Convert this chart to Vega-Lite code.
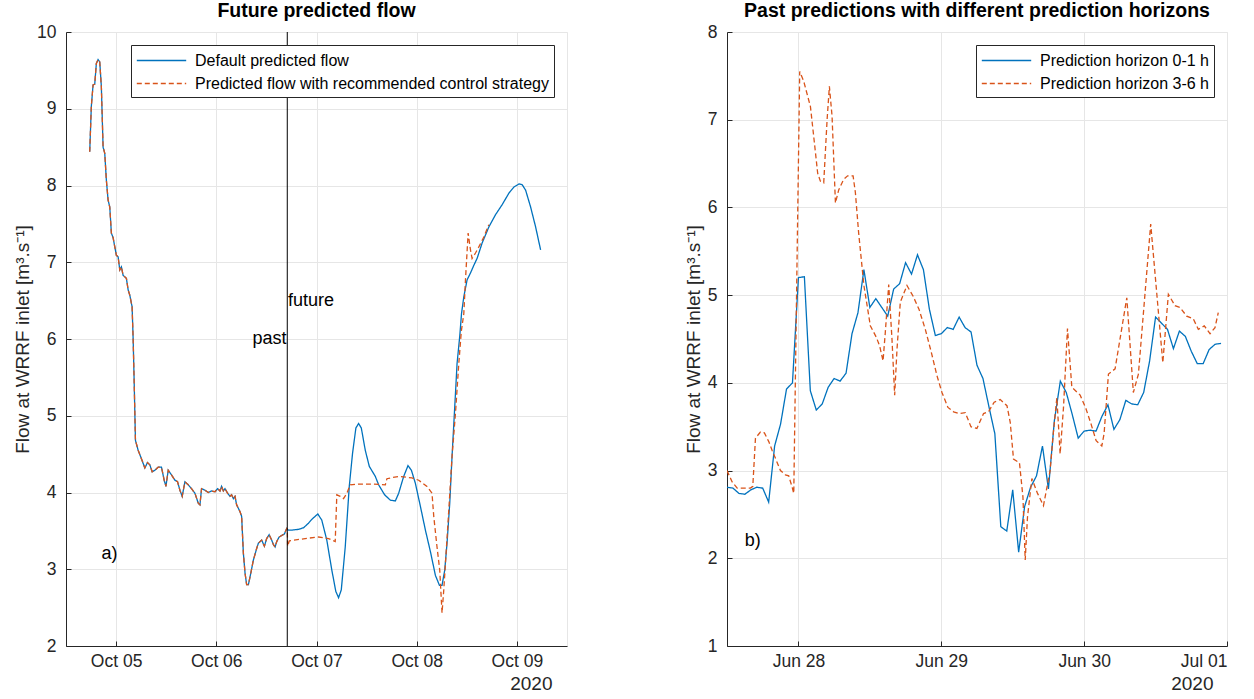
{
  "$schema": "https://vega.github.io/schema/vega-lite/v6.json",
  "padding": {"left": 13, "top": 0, "right": 5, "bottom": 0},
  "spacing": 115,
  "background": "#ffffff",
  "config": {
    "font": "Liberation Sans",
    "view": {"stroke": "#e6e6e6"},
    "axis": {
      "domainColor": "#262626", "tickColor": "#262626", "labelColor": "#262626", "titleColor": "#262626",
      "gridColor": "#e6e6e6", "labelFontSize": 17.5, "titleFontSize": 19, "titleFontWeight": "normal",
      "tickSize": -5, "labelPadding": 15
    },
    "title": {"fontSize": 19.5, "fontWeight": "bold", "color": "#000000", "offset": 2},
    "legend": {
      "orient": "top-right", "offset": 13, "fillColor": "#ffffff", "strokeColor": "#262626",
      "padding": 5, "labelFontSize": 16, "labelColor": "#000000", "labelLimit": 0,
      "symbolType": "M-2.6,0H2.6", "symbolSize": 361, "symbolStrokeWidth": 1.3,
      "symbolOffset": 15, "labelOffset": 23, "rowPadding": 4, "cornerRadius": 0
    }
  },
  "resolve": {
    "scale": {"color": "independent", "strokeDash": "independent", "x": "independent", "y": "independent"},
    "legend": {"color": "independent", "strokeDash": "independent"}
  },
  "datasets": {
    "flowA": [
      {"t":"2020-10-04T17:41","v":8.44,"s":"Default predicted flow"},
      {"t":"2020-10-04T18:04","v":9.03,"s":"Default predicted flow"},
      {"t":"2020-10-04T18:29","v":9.31,"s":"Default predicted flow"},
      {"t":"2020-10-04T18:53","v":9.32,"s":"Default predicted flow"},
      {"t":"2020-10-04T19:16","v":9.59,"s":"Default predicted flow"},
      {"t":"2020-10-04T19:41","v":9.64,"s":"Default predicted flow"},
      {"t":"2020-10-04T20:05","v":9.61,"s":"Default predicted flow"},
      {"t":"2020-10-04T20:28","v":9.29,"s":"Default predicted flow"},
      {"t":"2020-10-04T20:53","v":8.50,"s":"Default predicted flow"},
      {"t":"2020-10-04T21:17","v":8.42,"s":"Default predicted flow"},
      {"t":"2020-10-04T21:40","v":8.07,"s":"Default predicted flow"},
      {"t":"2020-10-04T22:05","v":7.81,"s":"Default predicted flow"},
      {"t":"2020-10-04T22:29","v":7.72,"s":"Default predicted flow"},
      {"t":"2020-10-04T22:52","v":7.38,"s":"Default predicted flow"},
      {"t":"2020-10-04T23:17","v":7.32,"s":"Default predicted flow"},
      {"t":"2020-10-05T00:04","v":7.09,"s":"Default predicted flow"},
      {"t":"2020-10-05T00:29","v":7.07,"s":"Default predicted flow"},
      {"t":"2020-10-05T00:53","v":6.90,"s":"Default predicted flow"},
      {"t":"2020-10-05T01:16","v":6.94,"s":"Default predicted flow"},
      {"t":"2020-10-05T01:41","v":6.83,"s":"Default predicted flow"},
      {"t":"2020-10-05T02:28","v":6.79,"s":"Default predicted flow"},
      {"t":"2020-10-05T02:53","v":6.64,"s":"Default predicted flow"},
      {"t":"2020-10-05T03:17","v":6.57,"s":"Default predicted flow"},
      {"t":"2020-10-05T03:50","v":6.42,"s":"Default predicted flow"},
      {"t":"2020-10-05T04:05","v":6.00,"s":"Default predicted flow"},
      {"t":"2020-10-05T04:19","v":5.47,"s":"Default predicted flow"},
      {"t":"2020-10-05T04:38","v":4.68,"s":"Default predicted flow"},
      {"t":"2020-10-05T05:17","v":4.55,"s":"Default predicted flow"},
      {"t":"2020-10-05T06:04","v":4.44,"s":"Default predicted flow"},
      {"t":"2020-10-05T06:53","v":4.32,"s":"Default predicted flow"},
      {"t":"2020-10-05T07:31","v":4.39,"s":"Default predicted flow"},
      {"t":"2020-10-05T08:05","v":4.36,"s":"Default predicted flow"},
      {"t":"2020-10-05T08:38","v":4.27,"s":"Default predicted flow"},
      {"t":"2020-10-05T09:17","v":4.29,"s":"Default predicted flow"},
      {"t":"2020-10-05T10:05","v":4.33,"s":"Default predicted flow"},
      {"t":"2020-10-05T10:52","v":4.33,"s":"Default predicted flow"},
      {"t":"2020-10-05T11:31","v":4.16,"s":"Default predicted flow"},
      {"t":"2020-10-05T11:56","v":4.08,"s":"Default predicted flow"},
      {"t":"2020-10-05T12:29","v":4.29,"s":"Default predicted flow"},
      {"t":"2020-10-05T13:16","v":4.23,"s":"Default predicted flow"},
      {"t":"2020-10-05T14:05","v":4.16,"s":"Default predicted flow"},
      {"t":"2020-10-05T14:43","v":4.14,"s":"Default predicted flow"},
      {"t":"2020-10-05T15:17","v":4.03,"s":"Default predicted flow"},
      {"t":"2020-10-05T15:50","v":3.95,"s":"Default predicted flow"},
      {"t":"2020-10-05T16:29","v":4.14,"s":"Default predicted flow"},
      {"t":"2020-10-05T17:17","v":4.10,"s":"Default predicted flow"},
      {"t":"2020-10-05T18:04","v":4.05,"s":"Default predicted flow"},
      {"t":"2020-10-05T18:53","v":3.99,"s":"Default predicted flow"},
      {"t":"2020-10-05T19:41","v":3.86,"s":"Default predicted flow"},
      {"t":"2020-10-05T20:05","v":3.84,"s":"Default predicted flow"},
      {"t":"2020-10-05T20:28","v":4.05,"s":"Default predicted flow"},
      {"t":"2020-10-05T21:17","v":4.03,"s":"Default predicted flow"},
      {"t":"2020-10-05T22:05","v":4.00,"s":"Default predicted flow"},
      {"t":"2020-10-05T22:52","v":4.02,"s":"Default predicted flow"},
      {"t":"2020-10-05T23:41","v":4.01,"s":"Default predicted flow"},
      {"t":"2020-10-06T00:19","v":4.05,"s":"Default predicted flow"},
      {"t":"2020-10-06T00:53","v":4.02,"s":"Default predicted flow"},
      {"t":"2020-10-06T01:16","v":4.08,"s":"Default predicted flow"},
      {"t":"2020-10-06T01:41","v":4.02,"s":"Default predicted flow"},
      {"t":"2020-10-06T02:05","v":4.05,"s":"Default predicted flow"},
      {"t":"2020-10-06T02:43","v":3.99,"s":"Default predicted flow"},
      {"t":"2020-10-06T03:17","v":3.95,"s":"Default predicted flow"},
      {"t":"2020-10-06T03:40","v":3.97,"s":"Default predicted flow"},
      {"t":"2020-10-06T04:05","v":3.92,"s":"Default predicted flow"},
      {"t":"2020-10-06T04:29","v":3.95,"s":"Default predicted flow"},
      {"t":"2020-10-06T04:52","v":3.84,"s":"Default predicted flow"},
      {"t":"2020-10-06T05:41","v":3.75,"s":"Default predicted flow"},
      {"t":"2020-10-06T06:04","v":3.69,"s":"Default predicted flow"},
      {"t":"2020-10-06T06:29","v":3.21,"s":"Default predicted flow"},
      {"t":"2020-10-06T06:53","v":2.95,"s":"Default predicted flow"},
      {"t":"2020-10-06T07:16","v":2.80,"s":"Default predicted flow"},
      {"t":"2020-10-06T07:41","v":2.80,"s":"Default predicted flow"},
      {"t":"2020-10-06T08:05","v":2.90,"s":"Default predicted flow"},
      {"t":"2020-10-06T08:53","v":3.12,"s":"Default predicted flow"},
      {"t":"2020-10-06T09:40","v":3.27,"s":"Default predicted flow"},
      {"t":"2020-10-06T10:05","v":3.34,"s":"Default predicted flow"},
      {"t":"2020-10-06T10:52","v":3.38,"s":"Default predicted flow"},
      {"t":"2020-10-06T11:31","v":3.30,"s":"Default predicted flow"},
      {"t":"2020-10-06T12:04","v":3.40,"s":"Default predicted flow"},
      {"t":"2020-10-06T12:39","v":3.45,"s":"Default predicted flow"},
      {"t":"2020-10-06T13:16","v":3.38,"s":"Default predicted flow"},
      {"t":"2020-10-06T13:41","v":3.32,"s":"Default predicted flow"},
      {"t":"2020-10-06T14:05","v":3.29,"s":"Default predicted flow"},
      {"t":"2020-10-06T14:28","v":3.36,"s":"Default predicted flow"},
      {"t":"2020-10-06T15:03","v":3.42,"s":"Default predicted flow"},
      {"t":"2020-10-06T15:40","v":3.44,"s":"Default predicted flow"},
      {"t":"2020-10-06T16:19","v":3.46,"s":"Default predicted flow"},
      {"t":"2020-10-06T16:52","v":3.53,"s":"Default predicted flow"},
      {"t":"2020-10-06T17:00","v":3.52,"s":"Default predicted flow"},
      {"t":"2020-10-06T17:17","v":3.51,"s":"Default predicted flow"},
      {"t":"2020-10-06T18:04","v":3.51,"s":"Default predicted flow"},
      {"t":"2020-10-06T19:41","v":3.52,"s":"Default predicted flow"},
      {"t":"2020-10-06T20:53","v":3.54,"s":"Default predicted flow"},
      {"t":"2020-10-06T22:05","v":3.60,"s":"Default predicted flow"},
      {"t":"2020-10-06T22:52","v":3.65,"s":"Default predicted flow"},
      {"t":"2020-10-07T00:19","v":3.72,"s":"Default predicted flow"},
      {"t":"2020-10-07T01:16","v":3.64,"s":"Default predicted flow"},
      {"t":"2020-10-07T02:28","v":3.38,"s":"Default predicted flow"},
      {"t":"2020-10-07T03:40","v":2.99,"s":"Default predicted flow"},
      {"t":"2020-10-07T04:38","v":2.71,"s":"Default predicted flow"},
      {"t":"2020-10-07T05:17","v":2.63,"s":"Default predicted flow"},
      {"t":"2020-10-07T05:56","v":2.73,"s":"Default predicted flow"},
      {"t":"2020-10-07T06:53","v":3.29,"s":"Default predicted flow"},
      {"t":"2020-10-07T07:51","v":4.08,"s":"Default predicted flow"},
      {"t":"2020-10-07T08:38","v":4.51,"s":"Default predicted flow"},
      {"t":"2020-10-07T09:26","v":4.84,"s":"Default predicted flow"},
      {"t":"2020-10-07T10:05","v":4.90,"s":"Default predicted flow"},
      {"t":"2020-10-07T10:44","v":4.84,"s":"Default predicted flow"},
      {"t":"2020-10-07T11:41","v":4.55,"s":"Default predicted flow"},
      {"t":"2020-10-07T12:39","v":4.34,"s":"Default predicted flow"},
      {"t":"2020-10-07T14:05","v":4.21,"s":"Default predicted flow"},
      {"t":"2020-10-07T14:53","v":4.10,"s":"Default predicted flow"},
      {"t":"2020-10-07T16:19","v":3.97,"s":"Default predicted flow"},
      {"t":"2020-10-07T17:41","v":3.90,"s":"Default predicted flow"},
      {"t":"2020-10-07T18:53","v":3.89,"s":"Default predicted flow"},
      {"t":"2020-10-07T19:41","v":3.99,"s":"Default predicted flow"},
      {"t":"2020-10-07T20:53","v":4.21,"s":"Default predicted flow"},
      {"t":"2020-10-07T21:55","v":4.35,"s":"Default predicted flow"},
      {"t":"2020-10-07T22:44","v":4.29,"s":"Default predicted flow"},
      {"t":"2020-10-07T23:41","v":4.12,"s":"Default predicted flow"},
      {"t":"2020-10-08T00:53","v":3.82,"s":"Default predicted flow"},
      {"t":"2020-10-08T02:05","v":3.51,"s":"Default predicted flow"},
      {"t":"2020-10-08T03:17","v":3.23,"s":"Default predicted flow"},
      {"t":"2020-10-08T04:29","v":2.92,"s":"Default predicted flow"},
      {"t":"2020-10-08T05:27","v":2.79,"s":"Default predicted flow"},
      {"t":"2020-10-08T06:04","v":2.79,"s":"Default predicted flow"},
      {"t":"2020-10-08T06:43","v":2.99,"s":"Default predicted flow"},
      {"t":"2020-10-08T07:16","v":3.34,"s":"Default predicted flow"},
      {"t":"2020-10-08T07:55","v":3.86,"s":"Default predicted flow"},
      {"t":"2020-10-08T08:28","v":4.47,"s":"Default predicted flow"},
      {"t":"2020-10-08T09:07","v":5.12,"s":"Default predicted flow"},
      {"t":"2020-10-08T09:40","v":5.68,"s":"Default predicted flow"},
      {"t":"2020-10-08T10:20","v":6.05,"s":"Default predicted flow"},
      {"t":"2020-10-08T10:44","v":6.33,"s":"Default predicted flow"},
      {"t":"2020-10-08T11:17","v":6.55,"s":"Default predicted flow"},
      {"t":"2020-10-08T12:04","v":6.77,"s":"Default predicted flow"},
      {"t":"2020-10-08T12:53","v":6.86,"s":"Default predicted flow"},
      {"t":"2020-10-08T13:41","v":6.96,"s":"Default predicted flow"},
      {"t":"2020-10-08T14:28","v":7.05,"s":"Default predicted flow"},
      {"t":"2020-10-08T15:40","v":7.25,"s":"Default predicted flow"},
      {"t":"2020-10-08T17:17","v":7.46,"s":"Default predicted flow"},
      {"t":"2020-10-08T18:53","v":7.62,"s":"Default predicted flow"},
      {"t":"2020-10-08T20:28","v":7.75,"s":"Default predicted flow"},
      {"t":"2020-10-08T22:05","v":7.90,"s":"Default predicted flow"},
      {"t":"2020-10-08T23:17","v":7.98,"s":"Default predicted flow"},
      {"t":"2020-10-09T00:29","v":8.02,"s":"Default predicted flow"},
      {"t":"2020-10-09T01:16","v":8.01,"s":"Default predicted flow"},
      {"t":"2020-10-09T02:05","v":7.94,"s":"Default predicted flow"},
      {"t":"2020-10-09T03:17","v":7.72,"s":"Default predicted flow"},
      {"t":"2020-10-09T04:29","v":7.46,"s":"Default predicted flow"},
      {"t":"2020-10-09T05:41","v":7.16,"s":"Default predicted flow"},
      {"t":"2020-10-04T17:41","v":8.44,"s":"Predicted flow with recommended control strategy"},
      {"t":"2020-10-04T18:04","v":9.03,"s":"Predicted flow with recommended control strategy"},
      {"t":"2020-10-04T18:29","v":9.31,"s":"Predicted flow with recommended control strategy"},
      {"t":"2020-10-04T18:53","v":9.32,"s":"Predicted flow with recommended control strategy"},
      {"t":"2020-10-04T19:16","v":9.59,"s":"Predicted flow with recommended control strategy"},
      {"t":"2020-10-04T19:41","v":9.64,"s":"Predicted flow with recommended control strategy"},
      {"t":"2020-10-04T20:05","v":9.61,"s":"Predicted flow with recommended control strategy"},
      {"t":"2020-10-04T20:28","v":9.29,"s":"Predicted flow with recommended control strategy"},
      {"t":"2020-10-04T20:53","v":8.50,"s":"Predicted flow with recommended control strategy"},
      {"t":"2020-10-04T21:17","v":8.42,"s":"Predicted flow with recommended control strategy"},
      {"t":"2020-10-04T21:40","v":8.07,"s":"Predicted flow with recommended control strategy"},
      {"t":"2020-10-04T22:05","v":7.81,"s":"Predicted flow with recommended control strategy"},
      {"t":"2020-10-04T22:29","v":7.72,"s":"Predicted flow with recommended control strategy"},
      {"t":"2020-10-04T22:52","v":7.38,"s":"Predicted flow with recommended control strategy"},
      {"t":"2020-10-04T23:17","v":7.32,"s":"Predicted flow with recommended control strategy"},
      {"t":"2020-10-05T00:04","v":7.09,"s":"Predicted flow with recommended control strategy"},
      {"t":"2020-10-05T00:29","v":7.07,"s":"Predicted flow with recommended control strategy"},
      {"t":"2020-10-05T00:53","v":6.90,"s":"Predicted flow with recommended control strategy"},
      {"t":"2020-10-05T01:16","v":6.94,"s":"Predicted flow with recommended control strategy"},
      {"t":"2020-10-05T01:41","v":6.83,"s":"Predicted flow with recommended control strategy"},
      {"t":"2020-10-05T02:28","v":6.79,"s":"Predicted flow with recommended control strategy"},
      {"t":"2020-10-05T02:53","v":6.64,"s":"Predicted flow with recommended control strategy"},
      {"t":"2020-10-05T03:17","v":6.57,"s":"Predicted flow with recommended control strategy"},
      {"t":"2020-10-05T03:50","v":6.42,"s":"Predicted flow with recommended control strategy"},
      {"t":"2020-10-05T04:05","v":6.00,"s":"Predicted flow with recommended control strategy"},
      {"t":"2020-10-05T04:19","v":5.47,"s":"Predicted flow with recommended control strategy"},
      {"t":"2020-10-05T04:38","v":4.68,"s":"Predicted flow with recommended control strategy"},
      {"t":"2020-10-05T05:17","v":4.55,"s":"Predicted flow with recommended control strategy"},
      {"t":"2020-10-05T06:04","v":4.44,"s":"Predicted flow with recommended control strategy"},
      {"t":"2020-10-05T06:53","v":4.32,"s":"Predicted flow with recommended control strategy"},
      {"t":"2020-10-05T07:31","v":4.39,"s":"Predicted flow with recommended control strategy"},
      {"t":"2020-10-05T08:05","v":4.36,"s":"Predicted flow with recommended control strategy"},
      {"t":"2020-10-05T08:38","v":4.27,"s":"Predicted flow with recommended control strategy"},
      {"t":"2020-10-05T09:17","v":4.29,"s":"Predicted flow with recommended control strategy"},
      {"t":"2020-10-05T10:05","v":4.33,"s":"Predicted flow with recommended control strategy"},
      {"t":"2020-10-05T10:52","v":4.33,"s":"Predicted flow with recommended control strategy"},
      {"t":"2020-10-05T11:31","v":4.16,"s":"Predicted flow with recommended control strategy"},
      {"t":"2020-10-05T11:56","v":4.08,"s":"Predicted flow with recommended control strategy"},
      {"t":"2020-10-05T12:29","v":4.29,"s":"Predicted flow with recommended control strategy"},
      {"t":"2020-10-05T13:16","v":4.23,"s":"Predicted flow with recommended control strategy"},
      {"t":"2020-10-05T14:05","v":4.16,"s":"Predicted flow with recommended control strategy"},
      {"t":"2020-10-05T14:43","v":4.14,"s":"Predicted flow with recommended control strategy"},
      {"t":"2020-10-05T15:17","v":4.03,"s":"Predicted flow with recommended control strategy"},
      {"t":"2020-10-05T15:50","v":3.95,"s":"Predicted flow with recommended control strategy"},
      {"t":"2020-10-05T16:29","v":4.14,"s":"Predicted flow with recommended control strategy"},
      {"t":"2020-10-05T17:17","v":4.10,"s":"Predicted flow with recommended control strategy"},
      {"t":"2020-10-05T18:04","v":4.05,"s":"Predicted flow with recommended control strategy"},
      {"t":"2020-10-05T18:53","v":3.99,"s":"Predicted flow with recommended control strategy"},
      {"t":"2020-10-05T19:41","v":3.86,"s":"Predicted flow with recommended control strategy"},
      {"t":"2020-10-05T20:05","v":3.84,"s":"Predicted flow with recommended control strategy"},
      {"t":"2020-10-05T20:28","v":4.05,"s":"Predicted flow with recommended control strategy"},
      {"t":"2020-10-05T21:17","v":4.03,"s":"Predicted flow with recommended control strategy"},
      {"t":"2020-10-05T22:05","v":4.00,"s":"Predicted flow with recommended control strategy"},
      {"t":"2020-10-05T22:52","v":4.02,"s":"Predicted flow with recommended control strategy"},
      {"t":"2020-10-05T23:41","v":4.01,"s":"Predicted flow with recommended control strategy"},
      {"t":"2020-10-06T00:19","v":4.05,"s":"Predicted flow with recommended control strategy"},
      {"t":"2020-10-06T00:53","v":4.02,"s":"Predicted flow with recommended control strategy"},
      {"t":"2020-10-06T01:16","v":4.08,"s":"Predicted flow with recommended control strategy"},
      {"t":"2020-10-06T01:41","v":4.02,"s":"Predicted flow with recommended control strategy"},
      {"t":"2020-10-06T02:05","v":4.05,"s":"Predicted flow with recommended control strategy"},
      {"t":"2020-10-06T02:43","v":3.99,"s":"Predicted flow with recommended control strategy"},
      {"t":"2020-10-06T03:17","v":3.95,"s":"Predicted flow with recommended control strategy"},
      {"t":"2020-10-06T03:40","v":3.97,"s":"Predicted flow with recommended control strategy"},
      {"t":"2020-10-06T04:05","v":3.92,"s":"Predicted flow with recommended control strategy"},
      {"t":"2020-10-06T04:29","v":3.95,"s":"Predicted flow with recommended control strategy"},
      {"t":"2020-10-06T04:52","v":3.84,"s":"Predicted flow with recommended control strategy"},
      {"t":"2020-10-06T05:41","v":3.75,"s":"Predicted flow with recommended control strategy"},
      {"t":"2020-10-06T06:04","v":3.69,"s":"Predicted flow with recommended control strategy"},
      {"t":"2020-10-06T06:29","v":3.21,"s":"Predicted flow with recommended control strategy"},
      {"t":"2020-10-06T06:53","v":2.95,"s":"Predicted flow with recommended control strategy"},
      {"t":"2020-10-06T07:16","v":2.80,"s":"Predicted flow with recommended control strategy"},
      {"t":"2020-10-06T07:41","v":2.80,"s":"Predicted flow with recommended control strategy"},
      {"t":"2020-10-06T08:05","v":2.90,"s":"Predicted flow with recommended control strategy"},
      {"t":"2020-10-06T08:53","v":3.12,"s":"Predicted flow with recommended control strategy"},
      {"t":"2020-10-06T09:40","v":3.27,"s":"Predicted flow with recommended control strategy"},
      {"t":"2020-10-06T10:05","v":3.34,"s":"Predicted flow with recommended control strategy"},
      {"t":"2020-10-06T10:52","v":3.38,"s":"Predicted flow with recommended control strategy"},
      {"t":"2020-10-06T11:31","v":3.30,"s":"Predicted flow with recommended control strategy"},
      {"t":"2020-10-06T12:04","v":3.40,"s":"Predicted flow with recommended control strategy"},
      {"t":"2020-10-06T12:39","v":3.45,"s":"Predicted flow with recommended control strategy"},
      {"t":"2020-10-06T13:16","v":3.38,"s":"Predicted flow with recommended control strategy"},
      {"t":"2020-10-06T13:41","v":3.32,"s":"Predicted flow with recommended control strategy"},
      {"t":"2020-10-06T14:05","v":3.29,"s":"Predicted flow with recommended control strategy"},
      {"t":"2020-10-06T14:28","v":3.36,"s":"Predicted flow with recommended control strategy"},
      {"t":"2020-10-06T15:03","v":3.42,"s":"Predicted flow with recommended control strategy"},
      {"t":"2020-10-06T15:40","v":3.44,"s":"Predicted flow with recommended control strategy"},
      {"t":"2020-10-06T16:19","v":3.46,"s":"Predicted flow with recommended control strategy"},
      {"t":"2020-10-06T16:52","v":3.53,"s":"Predicted flow with recommended control strategy"},
      {"t":"2020-10-06T17:00","v":3.52,"s":"Predicted flow with recommended control strategy"},
      {"t":"2020-10-06T17:05","v":3.30,"s":"Predicted flow with recommended control strategy"},
      {"t":"2020-10-06T17:30","v":3.37,"s":"Predicted flow with recommended control strategy"},
      {"t":"2020-10-06T21:17","v":3.40,"s":"Predicted flow with recommended control strategy"},
      {"t":"2020-10-07T00:29","v":3.42,"s":"Predicted flow with recommended control strategy"},
      {"t":"2020-10-07T02:53","v":3.40,"s":"Predicted flow with recommended control strategy"},
      {"t":"2020-10-07T04:29","v":3.36,"s":"Predicted flow with recommended control strategy"},
      {"t":"2020-10-07T04:52","v":3.97,"s":"Predicted flow with recommended control strategy"},
      {"t":"2020-10-07T05:41","v":3.95,"s":"Predicted flow with recommended control strategy"},
      {"t":"2020-10-07T06:29","v":3.92,"s":"Predicted flow with recommended control strategy"},
      {"t":"2020-10-07T07:16","v":3.99,"s":"Predicted flow with recommended control strategy"},
      {"t":"2020-10-07T08:05","v":4.10,"s":"Predicted flow with recommended control strategy"},
      {"t":"2020-10-07T10:05","v":4.11,"s":"Predicted flow with recommended control strategy"},
      {"t":"2020-10-07T13:16","v":4.11,"s":"Predicted flow with recommended control strategy"},
      {"t":"2020-10-07T16:29","v":4.10,"s":"Predicted flow with recommended control strategy"},
      {"t":"2020-10-07T16:52","v":4.18,"s":"Predicted flow with recommended control strategy"},
      {"t":"2020-10-07T19:41","v":4.21,"s":"Predicted flow with recommended control strategy"},
      {"t":"2020-10-07T22:52","v":4.19,"s":"Predicted flow with recommended control strategy"},
      {"t":"2020-10-08T00:29","v":4.16,"s":"Predicted flow with recommended control strategy"},
      {"t":"2020-10-08T02:28","v":4.08,"s":"Predicted flow with recommended control strategy"},
      {"t":"2020-10-08T03:40","v":3.99,"s":"Predicted flow with recommended control strategy"},
      {"t":"2020-10-08T04:05","v":3.69,"s":"Predicted flow with recommended control strategy"},
      {"t":"2020-10-08T04:52","v":3.29,"s":"Predicted flow with recommended control strategy"},
      {"t":"2020-10-08T05:31","v":2.99,"s":"Predicted flow with recommended control strategy"},
      {"t":"2020-10-08T06:04","v":2.43,"s":"Predicted flow with recommended control strategy"},
      {"t":"2020-10-08T06:29","v":2.73,"s":"Predicted flow with recommended control strategy"},
      {"t":"2020-10-08T07:08","v":3.29,"s":"Predicted flow with recommended control strategy"},
      {"t":"2020-10-08T07:41","v":3.77,"s":"Predicted flow with recommended control strategy"},
      {"t":"2020-10-08T08:28","v":4.47,"s":"Predicted flow with recommended control strategy"},
      {"t":"2020-10-08T09:17","v":5.03,"s":"Predicted flow with recommended control strategy"},
      {"t":"2020-10-08T10:05","v":5.68,"s":"Predicted flow with recommended control strategy"},
      {"t":"2020-10-08T10:41","v":6.10,"s":"Predicted flow with recommended control strategy"},
      {"t":"2020-10-08T11:17","v":6.33,"s":"Predicted flow with recommended control strategy"},
      {"t":"2020-10-08T11:41","v":6.77,"s":"Predicted flow with recommended control strategy"},
      {"t":"2020-10-08T12:19","v":7.38,"s":"Predicted flow with recommended control strategy"},
      {"t":"2020-10-08T12:53","v":7.16,"s":"Predicted flow with recommended control strategy"},
      {"t":"2020-10-08T13:16","v":7.05,"s":"Predicted flow with recommended control strategy"},
      {"t":"2020-10-08T14:05","v":7.12,"s":"Predicted flow with recommended control strategy"},
      {"t":"2020-10-08T14:53","v":7.20,"s":"Predicted flow with recommended control strategy"},
      {"t":"2020-10-08T16:05","v":7.33,"s":"Predicted flow with recommended control strategy"},
      {"t":"2020-10-08T17:17","v":7.49,"s":"Predicted flow with recommended control strategy"}
    ],
    "cutA": [{"t":"2020-10-06T17:00"}],
    "notesA": [
      {"t":"2020-10-06T16:50","v":6.0,"label":"past","side":"left"},
      {"t":"2020-10-06T17:10","v":6.5,"label":"future","side":"right"},
      {"t":"2020-10-04T20:30","v":3.2,"label":"a)","side":"right"}
    ],
    "flowB": [
      {"t":"2020-06-27T12:00","v":2.81,"s":"Prediction horizon 0-1 h"},
      {"t":"2020-06-27T13:00","v":2.80,"s":"Prediction horizon 0-1 h"},
      {"t":"2020-06-27T14:00","v":2.74,"s":"Prediction horizon 0-1 h"},
      {"t":"2020-06-27T15:00","v":2.73,"s":"Prediction horizon 0-1 h"},
      {"t":"2020-06-27T16:00","v":2.78,"s":"Prediction horizon 0-1 h"},
      {"t":"2020-06-27T17:00","v":2.81,"s":"Prediction horizon 0-1 h"},
      {"t":"2020-06-27T18:00","v":2.80,"s":"Prediction horizon 0-1 h"},
      {"t":"2020-06-27T19:00","v":2.64,"s":"Prediction horizon 0-1 h"},
      {"t":"2020-06-27T20:00","v":3.28,"s":"Prediction horizon 0-1 h"},
      {"t":"2020-06-27T21:00","v":3.53,"s":"Prediction horizon 0-1 h"},
      {"t":"2020-06-27T22:00","v":3.93,"s":"Prediction horizon 0-1 h"},
      {"t":"2020-06-27T23:00","v":4.00,"s":"Prediction horizon 0-1 h"},
      {"t":"2020-06-28T00:00","v":5.20,"s":"Prediction horizon 0-1 h"},
      {"t":"2020-06-28T01:00","v":5.21,"s":"Prediction horizon 0-1 h"},
      {"t":"2020-06-28T02:00","v":3.91,"s":"Prediction horizon 0-1 h"},
      {"t":"2020-06-28T03:00","v":3.69,"s":"Prediction horizon 0-1 h"},
      {"t":"2020-06-28T04:00","v":3.76,"s":"Prediction horizon 0-1 h"},
      {"t":"2020-06-28T05:00","v":3.95,"s":"Prediction horizon 0-1 h"},
      {"t":"2020-06-28T06:00","v":4.05,"s":"Prediction horizon 0-1 h"},
      {"t":"2020-06-28T07:00","v":4.02,"s":"Prediction horizon 0-1 h"},
      {"t":"2020-06-28T08:00","v":4.11,"s":"Prediction horizon 0-1 h"},
      {"t":"2020-06-28T09:00","v":4.56,"s":"Prediction horizon 0-1 h"},
      {"t":"2020-06-28T10:00","v":4.80,"s":"Prediction horizon 0-1 h"},
      {"t":"2020-06-28T11:00","v":5.29,"s":"Prediction horizon 0-1 h"},
      {"t":"2020-06-28T12:00","v":4.86,"s":"Prediction horizon 0-1 h"},
      {"t":"2020-06-28T13:00","v":4.96,"s":"Prediction horizon 0-1 h"},
      {"t":"2020-06-28T14:00","v":4.86,"s":"Prediction horizon 0-1 h"},
      {"t":"2020-06-28T15:00","v":4.76,"s":"Prediction horizon 0-1 h"},
      {"t":"2020-06-28T16:00","v":5.07,"s":"Prediction horizon 0-1 h"},
      {"t":"2020-06-28T17:00","v":5.13,"s":"Prediction horizon 0-1 h"},
      {"t":"2020-06-28T18:00","v":5.37,"s":"Prediction horizon 0-1 h"},
      {"t":"2020-06-28T19:00","v":5.24,"s":"Prediction horizon 0-1 h"},
      {"t":"2020-06-28T20:00","v":5.46,"s":"Prediction horizon 0-1 h"},
      {"t":"2020-06-28T21:00","v":5.29,"s":"Prediction horizon 0-1 h"},
      {"t":"2020-06-28T22:00","v":4.84,"s":"Prediction horizon 0-1 h"},
      {"t":"2020-06-28T23:00","v":4.54,"s":"Prediction horizon 0-1 h"},
      {"t":"2020-06-29T00:00","v":4.56,"s":"Prediction horizon 0-1 h"},
      {"t":"2020-06-29T01:00","v":4.63,"s":"Prediction horizon 0-1 h"},
      {"t":"2020-06-29T02:00","v":4.61,"s":"Prediction horizon 0-1 h"},
      {"t":"2020-06-29T03:00","v":4.75,"s":"Prediction horizon 0-1 h"},
      {"t":"2020-06-29T04:00","v":4.63,"s":"Prediction horizon 0-1 h"},
      {"t":"2020-06-29T05:00","v":4.58,"s":"Prediction horizon 0-1 h"},
      {"t":"2020-06-29T06:00","v":4.20,"s":"Prediction horizon 0-1 h"},
      {"t":"2020-06-29T07:00","v":4.05,"s":"Prediction horizon 0-1 h"},
      {"t":"2020-06-29T08:00","v":3.73,"s":"Prediction horizon 0-1 h"},
      {"t":"2020-06-29T09:00","v":3.42,"s":"Prediction horizon 0-1 h"},
      {"t":"2020-06-29T10:00","v":2.36,"s":"Prediction horizon 0-1 h"},
      {"t":"2020-06-29T11:00","v":2.31,"s":"Prediction horizon 0-1 h"},
      {"t":"2020-06-29T12:00","v":2.78,"s":"Prediction horizon 0-1 h"},
      {"t":"2020-06-29T13:00","v":2.07,"s":"Prediction horizon 0-1 h"},
      {"t":"2020-06-29T14:00","v":2.59,"s":"Prediction horizon 0-1 h"},
      {"t":"2020-06-29T15:00","v":2.81,"s":"Prediction horizon 0-1 h"},
      {"t":"2020-06-29T16:00","v":2.94,"s":"Prediction horizon 0-1 h"},
      {"t":"2020-06-29T17:00","v":3.28,"s":"Prediction horizon 0-1 h"},
      {"t":"2020-06-29T18:00","v":2.79,"s":"Prediction horizon 0-1 h"},
      {"t":"2020-06-29T19:00","v":3.57,"s":"Prediction horizon 0-1 h"},
      {"t":"2020-06-29T20:00","v":4.02,"s":"Prediction horizon 0-1 h"},
      {"t":"2020-06-29T21:00","v":3.89,"s":"Prediction horizon 0-1 h"},
      {"t":"2020-06-29T22:00","v":3.64,"s":"Prediction horizon 0-1 h"},
      {"t":"2020-06-29T23:00","v":3.37,"s":"Prediction horizon 0-1 h"},
      {"t":"2020-06-30T00:00","v":3.45,"s":"Prediction horizon 0-1 h"},
      {"t":"2020-06-30T01:00","v":3.46,"s":"Prediction horizon 0-1 h"},
      {"t":"2020-06-30T02:00","v":3.45,"s":"Prediction horizon 0-1 h"},
      {"t":"2020-06-30T03:00","v":3.62,"s":"Prediction horizon 0-1 h"},
      {"t":"2020-06-30T04:00","v":3.75,"s":"Prediction horizon 0-1 h"},
      {"t":"2020-06-30T05:00","v":3.47,"s":"Prediction horizon 0-1 h"},
      {"t":"2020-06-30T06:00","v":3.58,"s":"Prediction horizon 0-1 h"},
      {"t":"2020-06-30T07:00","v":3.80,"s":"Prediction horizon 0-1 h"},
      {"t":"2020-06-30T08:00","v":3.76,"s":"Prediction horizon 0-1 h"},
      {"t":"2020-06-30T09:00","v":3.75,"s":"Prediction horizon 0-1 h"},
      {"t":"2020-06-30T10:00","v":3.89,"s":"Prediction horizon 0-1 h"},
      {"t":"2020-06-30T11:00","v":4.25,"s":"Prediction horizon 0-1 h"},
      {"t":"2020-06-30T12:00","v":4.75,"s":"Prediction horizon 0-1 h"},
      {"t":"2020-06-30T13:00","v":4.68,"s":"Prediction horizon 0-1 h"},
      {"t":"2020-06-30T14:00","v":4.61,"s":"Prediction horizon 0-1 h"},
      {"t":"2020-06-30T15:00","v":4.39,"s":"Prediction horizon 0-1 h"},
      {"t":"2020-06-30T16:00","v":4.59,"s":"Prediction horizon 0-1 h"},
      {"t":"2020-06-30T17:00","v":4.53,"s":"Prediction horizon 0-1 h"},
      {"t":"2020-06-30T18:00","v":4.36,"s":"Prediction horizon 0-1 h"},
      {"t":"2020-06-30T19:00","v":4.22,"s":"Prediction horizon 0-1 h"},
      {"t":"2020-06-30T20:00","v":4.22,"s":"Prediction horizon 0-1 h"},
      {"t":"2020-06-30T21:00","v":4.38,"s":"Prediction horizon 0-1 h"},
      {"t":"2020-06-30T22:00","v":4.44,"s":"Prediction horizon 0-1 h"},
      {"t":"2020-06-30T23:00","v":4.45,"s":"Prediction horizon 0-1 h"},
      {"t":"2020-06-27T12:00","v":3.00,"s":"Prediction horizon 3-6 h"},
      {"t":"2020-06-27T12:52","v":2.87,"s":"Prediction horizon 3-6 h"},
      {"t":"2020-06-27T13:43","v":2.80,"s":"Prediction horizon 3-6 h"},
      {"t":"2020-06-27T14:49","v":2.80,"s":"Prediction horizon 3-6 h"},
      {"t":"2020-06-27T15:56","v":2.80,"s":"Prediction horizon 3-6 h"},
      {"t":"2020-06-27T16:20","v":2.82,"s":"Prediction horizon 3-6 h"},
      {"t":"2020-06-27T16:47","v":3.37,"s":"Prediction horizon 3-6 h"},
      {"t":"2020-06-27T17:37","v":3.44,"s":"Prediction horizon 3-6 h"},
      {"t":"2020-06-27T18:17","v":3.43,"s":"Prediction horizon 3-6 h"},
      {"t":"2020-06-27T19:01","v":3.33,"s":"Prediction horizon 3-6 h"},
      {"t":"2020-06-27T19:35","v":3.23,"s":"Prediction horizon 3-6 h"},
      {"t":"2020-06-27T20:19","v":3.11,"s":"Prediction horizon 3-6 h"},
      {"t":"2020-06-27T20:59","v":3.00,"s":"Prediction horizon 3-6 h"},
      {"t":"2020-06-27T21:49","v":2.95,"s":"Prediction horizon 3-6 h"},
      {"t":"2020-06-27T22:22","v":2.94,"s":"Prediction horizon 3-6 h"},
      {"t":"2020-06-27T22:57","v":2.81,"s":"Prediction horizon 3-6 h"},
      {"t":"2020-06-27T23:13","v":2.74,"s":"Prediction horizon 3-6 h"},
      {"t":"2020-06-28T00:13","v":7.55,"s":"Prediction horizon 3-6 h"},
      {"t":"2020-06-28T00:53","v":7.44,"s":"Prediction horizon 3-6 h"},
      {"t":"2020-06-28T02:01","v":7.15,"s":"Prediction horizon 3-6 h"},
      {"t":"2020-06-28T02:34","v":6.81,"s":"Prediction horizon 3-6 h"},
      {"t":"2020-06-28T03:14","v":6.39,"s":"Prediction horizon 3-6 h"},
      {"t":"2020-06-28T03:41","v":6.30,"s":"Prediction horizon 3-6 h"},
      {"t":"2020-06-28T04:15","v":6.28,"s":"Prediction horizon 3-6 h"},
      {"t":"2020-06-28T04:49","v":7.00,"s":"Prediction horizon 3-6 h"},
      {"t":"2020-06-28T05:12","v":7.38,"s":"Prediction horizon 3-6 h"},
      {"t":"2020-06-28T05:39","v":7.04,"s":"Prediction horizon 3-6 h"},
      {"t":"2020-06-28T06:13","v":6.05,"s":"Prediction horizon 3-6 h"},
      {"t":"2020-06-28T06:46","v":6.20,"s":"Prediction horizon 3-6 h"},
      {"t":"2020-06-28T07:36","v":6.32,"s":"Prediction horizon 3-6 h"},
      {"t":"2020-06-28T08:16","v":6.36,"s":"Prediction horizon 3-6 h"},
      {"t":"2020-06-28T09:11","v":6.36,"s":"Prediction horizon 3-6 h"},
      {"t":"2020-06-28T09:34","v":6.17,"s":"Prediction horizon 3-6 h"},
      {"t":"2020-06-28T10:07","v":5.71,"s":"Prediction horizon 3-6 h"},
      {"t":"2020-06-28T11:00","v":5.11,"s":"Prediction horizon 3-6 h"},
      {"t":"2020-06-28T12:05","v":4.65,"s":"Prediction horizon 3-6 h"},
      {"t":"2020-06-28T13:05","v":4.52,"s":"Prediction horizon 3-6 h"},
      {"t":"2020-06-28T13:39","v":4.42,"s":"Prediction horizon 3-6 h"},
      {"t":"2020-06-28T14:13","v":4.25,"s":"Prediction horizon 3-6 h"},
      {"t":"2020-06-28T14:36","v":4.58,"s":"Prediction horizon 3-6 h"},
      {"t":"2020-06-28T15:10","v":5.12,"s":"Prediction horizon 3-6 h"},
      {"t":"2020-06-28T15:43","v":4.50,"s":"Prediction horizon 3-6 h"},
      {"t":"2020-06-28T16:10","v":3.86,"s":"Prediction horizon 3-6 h"},
      {"t":"2020-06-28T16:34","v":4.39,"s":"Prediction horizon 3-6 h"},
      {"t":"2020-06-28T17:07","v":4.92,"s":"Prediction horizon 3-6 h"},
      {"t":"2020-06-28T18:14","v":5.11,"s":"Prediction horizon 3-6 h"},
      {"t":"2020-06-28T19:15","v":4.99,"s":"Prediction horizon 3-6 h"},
      {"t":"2020-06-28T20:15","v":4.84,"s":"Prediction horizon 3-6 h"},
      {"t":"2020-06-28T21:19","v":4.61,"s":"Prediction horizon 3-6 h"},
      {"t":"2020-06-28T22:19","v":4.35,"s":"Prediction horizon 3-6 h"},
      {"t":"2020-06-28T23:17","v":4.08,"s":"Prediction horizon 3-6 h"},
      {"t":"2020-06-29T00:07","v":3.89,"s":"Prediction horizon 3-6 h"},
      {"t":"2020-06-29T01:07","v":3.72,"s":"Prediction horizon 3-6 h"},
      {"t":"2020-06-29T02:04","v":3.67,"s":"Prediction horizon 3-6 h"},
      {"t":"2020-06-29T03:04","v":3.65,"s":"Prediction horizon 3-6 h"},
      {"t":"2020-06-29T04:02","v":3.66,"s":"Prediction horizon 3-6 h"},
      {"t":"2020-06-29T04:59","v":3.50,"s":"Prediction horizon 3-6 h"},
      {"t":"2020-06-29T05:59","v":3.48,"s":"Prediction horizon 3-6 h"},
      {"t":"2020-06-29T07:06","v":3.65,"s":"Prediction horizon 3-6 h"},
      {"t":"2020-06-29T07:56","v":3.67,"s":"Prediction horizon 3-6 h"},
      {"t":"2020-06-29T08:53","v":3.78,"s":"Prediction horizon 3-6 h"},
      {"t":"2020-06-29T09:54","v":3.81,"s":"Prediction horizon 3-6 h"},
      {"t":"2020-06-29T11:02","v":3.74,"s":"Prediction horizon 3-6 h"},
      {"t":"2020-06-29T11:35","v":3.55,"s":"Prediction horizon 3-6 h"},
      {"t":"2020-06-29T12:08","v":3.13,"s":"Prediction horizon 3-6 h"},
      {"t":"2020-06-29T13:08","v":3.09,"s":"Prediction horizon 3-6 h"},
      {"t":"2020-06-29T13:43","v":2.70,"s":"Prediction horizon 3-6 h"},
      {"t":"2020-06-29T14:06","v":1.98,"s":"Prediction horizon 3-6 h"},
      {"t":"2020-06-29T14:29","v":2.47,"s":"Prediction horizon 3-6 h"},
      {"t":"2020-06-29T15:13","v":2.91,"s":"Prediction horizon 3-6 h"},
      {"t":"2020-06-29T16:10","v":2.74,"s":"Prediction horizon 3-6 h"},
      {"t":"2020-06-29T17:10","v":2.60,"s":"Prediction horizon 3-6 h"},
      {"t":"2020-06-29T18:17","v":3.00,"s":"Prediction horizon 3-6 h"},
      {"t":"2020-06-29T18:51","v":3.45,"s":"Prediction horizon 3-6 h"},
      {"t":"2020-06-29T19:25","v":3.83,"s":"Prediction horizon 3-6 h"},
      {"t":"2020-06-29T19:58","v":3.19,"s":"Prediction horizon 3-6 h"},
      {"t":"2020-06-29T20:32","v":3.72,"s":"Prediction horizon 3-6 h"},
      {"t":"2020-06-29T21:12","v":4.62,"s":"Prediction horizon 3-6 h"},
      {"t":"2020-06-29T21:56","v":3.95,"s":"Prediction horizon 3-6 h"},
      {"t":"2020-06-29T23:20","v":3.86,"s":"Prediction horizon 3-6 h"},
      {"t":"2020-06-30T00:20","v":3.70,"s":"Prediction horizon 3-6 h"},
      {"t":"2020-06-30T01:10","v":3.53,"s":"Prediction horizon 3-6 h"},
      {"t":"2020-06-30T02:01","v":3.34,"s":"Prediction horizon 3-6 h"},
      {"t":"2020-06-30T02:58","v":3.28,"s":"Prediction horizon 3-6 h"},
      {"t":"2020-06-30T03:21","v":3.42,"s":"Prediction horizon 3-6 h"},
      {"t":"2020-06-30T04:05","v":4.10,"s":"Prediction horizon 3-6 h"},
      {"t":"2020-06-30T05:12","v":4.16,"s":"Prediction horizon 3-6 h"},
      {"t":"2020-06-30T07:10","v":4.97,"s":"Prediction horizon 3-6 h"},
      {"t":"2020-06-30T08:16","v":3.89,"s":"Prediction horizon 3-6 h"},
      {"t":"2020-06-30T09:07","v":4.10,"s":"Prediction horizon 3-6 h"},
      {"t":"2020-06-30T11:11","v":5.81,"s":"Prediction horizon 3-6 h"},
      {"t":"2020-06-30T13:13","v":4.23,"s":"Prediction horizon 3-6 h"},
      {"t":"2020-06-30T14:09","v":5.01,"s":"Prediction horizon 3-6 h"},
      {"t":"2020-06-30T15:16","v":4.88,"s":"Prediction horizon 3-6 h"},
      {"t":"2020-06-30T16:07","v":4.86,"s":"Prediction horizon 3-6 h"},
      {"t":"2020-06-30T17:14","v":4.76,"s":"Prediction horizon 3-6 h"},
      {"t":"2020-06-30T18:20","v":4.73,"s":"Prediction horizon 3-6 h"},
      {"t":"2020-06-30T19:11","v":4.61,"s":"Prediction horizon 3-6 h"},
      {"t":"2020-06-30T20:11","v":4.65,"s":"Prediction horizon 3-6 h"},
      {"t":"2020-06-30T21:09","v":4.56,"s":"Prediction horizon 3-6 h"},
      {"t":"2020-06-30T21:59","v":4.63,"s":"Prediction horizon 3-6 h"},
      {"t":"2020-06-30T22:32","v":4.80,"s":"Prediction horizon 3-6 h"}
    ],
    "notesB": [
      {"t":"2020-06-27T15:00","v":2.2,"label":"b)"}
    ]
  },
  "hconcat": [
    {
      "width": 501,
      "height": 614,
      "title": {"text": "Future predicted flow"},
      "layer": [
        {
          "data": {"name": "flowA"},
          "mark": {"type": "line", "strokeWidth": 1.3, "clip": true},
          "encoding": {
            "x": {
              "field": "t", "type": "temporal",
              "scale": {"domain": [{"year": 2020, "month": 10, "date": 4, "hours": 12}, {"year": 2020, "month": 10, "date": 9, "hours": 12}]},
              "axis": {
                "title": "2020", "titleAnchor": "end", "titleAlign": "right", "titleX": 486, "titlePadding": 5,
                "format": "%b %d", "labelPadding": 11, "grid": true,
                "values": [
                  {"year": 2020, "month": 10, "date": 5},
                  {"year": 2020, "month": 10, "date": 6},
                  {"year": 2020, "month": 10, "date": 7},
                  {"year": 2020, "month": 10, "date": 8},
                  {"year": 2020, "month": 10, "date": 9}
                ]
              }
            },
            "y": {
              "field": "v", "type": "quantitative",
              "scale": {"domain": [2, 10], "nice": false, "zero": false},
              "axis": {"title": "Flow at WRRF inlet [m³.s⁻¹]", "format": "d", "values": [2, 3, 4, 5, 6, 7, 8, 9, 10], "titlePadding": 4, "grid": true}
            },
            "color": {
              "field": "s", "type": "nominal",
              "scale": {"domain": ["Default predicted flow", "Predicted flow with recommended control strategy"], "range": ["#0072BD", "#D95319"]},
              "legend": {"title": null}
            },
            "strokeDash": {
              "field": "s", "type": "nominal",
              "scale": {"domain": ["Default predicted flow", "Predicted flow with recommended control strategy"], "range": [[1, 0], [5, 3]]},
              "legend": {"title": null}
            }
          }
        },
        {
          "data": {"name": "cutA"},
          "mark": {"type": "rule", "color": "#000000", "strokeWidth": 1},
          "encoding": {"x": {"field": "t", "type": "temporal"}}
        },
        {
          "data": {"name": "notesA"},
          "transform": [{"filter": "datum.side == 'left'"}],
          "mark": {"type": "text", "align": "right", "baseline": "middle", "fontSize": 18, "color": "#000000"},
          "encoding": {
            "x": {"field": "t", "type": "temporal"},
            "y": {"field": "v", "type": "quantitative"},
            "text": {"field": "label"}
          }
        },
        {
          "data": {"name": "notesA"},
          "transform": [{"filter": "datum.side == 'right'"}],
          "mark": {"type": "text", "align": "left", "baseline": "middle", "fontSize": 18, "color": "#000000"},
          "encoding": {
            "x": {"field": "t", "type": "temporal"},
            "y": {"field": "v", "type": "quantitative"},
            "text": {"field": "label"}
          }
        }
      ]
    },
    {
      "width": 500,
      "height": 614,
      "title": {"text": "Past predictions with different prediction horizons"},
      "layer": [
        {
          "data": {"name": "flowB"},
          "mark": {"type": "line", "strokeWidth": 1.3, "clip": true},
          "encoding": {
            "x": {
              "field": "t", "type": "temporal",
              "scale": {"domain": [{"year": 2020, "month": 6, "date": 27, "hours": 12}, {"year": 2020, "month": 7, "date": 1}]},
              "axis": {
                "title": "2020", "titleAnchor": "end", "titleAlign": "right", "titleX": 486, "titlePadding": 5,
                "format": "%b %d", "labelPadding": 11, "grid": true,
                "values": [
                  {"year": 2020, "month": 6, "date": 28},
                  {"year": 2020, "month": 6, "date": 29},
                  {"year": 2020, "month": 6, "date": 30},
                  {"year": 2020, "month": 7, "date": 1}
                ]
              }
            },
            "y": {
              "field": "v", "type": "quantitative",
              "scale": {"domain": [1, 8], "nice": false, "zero": false},
              "axis": {"title": "Flow at WRRF inlet [m³.s⁻¹]", "format": "d", "values": [1, 2, 3, 4, 5, 6, 7, 8], "titlePadding": 4, "grid": true}
            },
            "color": {
              "field": "s", "type": "nominal",
              "scale": {"domain": ["Prediction horizon 0-1 h", "Prediction horizon 3-6 h"], "range": ["#0072BD", "#D95319"]},
              "legend": {"title": null}
            },
            "strokeDash": {
              "field": "s", "type": "nominal",
              "scale": {"domain": ["Prediction horizon 0-1 h", "Prediction horizon 3-6 h"], "range": [[1, 0], [5, 3]]},
              "legend": {"title": null}
            }
          }
        },
        {
          "data": {"name": "notesB"},
          "mark": {"type": "text", "align": "left", "baseline": "middle", "fontSize": 18, "color": "#000000"},
          "encoding": {
            "x": {"field": "t", "type": "temporal"},
            "y": {"field": "v", "type": "quantitative"},
            "text": {"field": "label"}
          }
        }
      ]
    }
  ]
}
